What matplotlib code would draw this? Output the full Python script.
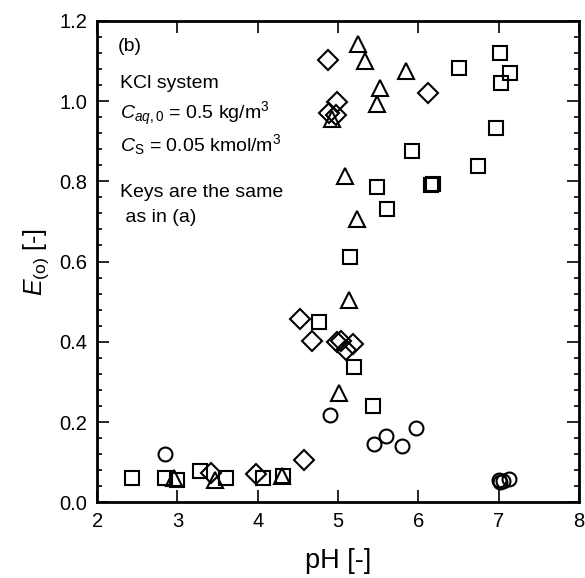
import numpy as np
from matplotlib import pyplot as plt
from matplotlib.ticker import MultipleLocator

plt.rcParams['font.family'] = ['Liberation Sans', 'DejaVu Sans']
plt.rcParams['mathtext.fontset'] = 'custom'
plt.rcParams['mathtext.rm'] = 'Liberation Sans'
plt.rcParams['mathtext.it'] = 'Liberation Sans:italic'

# Data: pH vs E_(o)
sq_ph = [2.43, 2.84, 3.00, 3.28, 3.61, 4.07, 4.32, 4.76, 5.20, 5.44, 5.15, 5.49,
         5.61, 5.92, 6.16, 6.18, 6.74, 6.96, 6.51, 7.01, 7.14, 7.03]
sq_e = [0.060, 0.060, 0.056, 0.078, 0.060, 0.060, 0.066, 0.450, 0.338, 0.241, 0.611, 0.786,
        0.731, 0.876, 0.790, 0.794, 0.837, 0.933, 1.082, 1.120, 1.071, 1.046]

tri_ph = [2.96, 3.47, 4.30, 5.01, 5.13, 5.24, 5.09, 4.92, 5.49, 5.52, 5.85, 5.34, 5.25]
tri_e = [0.061, 0.056, 0.066, 0.272, 0.504, 0.706, 0.812, 0.955, 0.993, 1.032, 1.074, 1.101, 1.143]

dia_ph = [3.42, 3.98, 4.57, 4.52, 4.67, 4.98, 5.03, 5.10, 5.18, 4.89, 4.97, 4.99, 4.88, 6.12]
dia_e = [0.072, 0.071, 0.105, 0.456, 0.402, 0.400, 0.403, 0.380, 0.395, 0.970, 0.966, 0.997, 1.103, 1.021]

cir_ph = [2.84, 4.90, 5.45, 5.59, 5.80, 5.97, 7.00, 7.02, 7.05, 7.13]
cir_e = [0.120, 0.218, 0.145, 0.166, 0.140, 0.185, 0.055, 0.050, 0.053, 0.058]

fig = plt.figure(figsize=(5.85, 5.78), dpi=100)
ax = fig.add_axes([0.166, 0.131, 0.824, 0.833])

style = dict(linestyle='none', mfc='none', mec='black', mew=1.5)
ax.plot(sq_ph, sq_e, marker='s', ms=9.5, **style)
ax.plot(tri_ph, tri_e, marker='^', ms=11, **style)
ax.plot(dia_ph, dia_e, marker='D', ms=10, **style)
ax.plot(cir_ph, cir_e, marker='o', ms=10, **style)

ax.set_xlim(2, 8)
ax.set_ylim(0, 1.2)
ax.xaxis.set_major_locator(MultipleLocator(1))
ax.yaxis.set_major_locator(MultipleLocator(0.2))
ax.yaxis.set_minor_locator(MultipleLocator(0.04))
ax.yaxis.set_major_formatter(plt.FormatStrFormatter('%.1f'))

ax.tick_params(which='both', direction='in', top=True, right=True, labelsize=14.5, width=1.2)
ax.tick_params(which='major', length=8.5, pad=7)
ax.tick_params(which='minor', length=3.5)
for s in ax.spines.values():
    s.set_linewidth(2)

ax.set_xlabel('pH [-]', fontsize=19.5, labelpad=12)
ax.set_ylabel(r'$E_{(\mathrm{o})}$ [-]', fontsize=18, labelpad=6)

fs = 14
ax.text(2.26, 1.136, '(b)', fontsize=fs, va='center')
ax.text(2.29, 1.043, 'KCl system', fontsize=fs, va='center')
ax.text(2.29, 0.968, r'$C_{aq,0}$ = 0.5 kg/m$^3$', fontsize=fs, va='center')
ax.text(2.29, 0.891, r'$C_\mathrm{S}$ = 0.05 kmol/m$^3$', fontsize=fs, va='center')
ax.text(2.29, 0.771, 'Keys are the same', fontsize=fs, va='center')
ax.text(2.29, 0.709, ' as in (a)', fontsize=fs, va='center')

fig.savefig('out.png', dpi=100)
